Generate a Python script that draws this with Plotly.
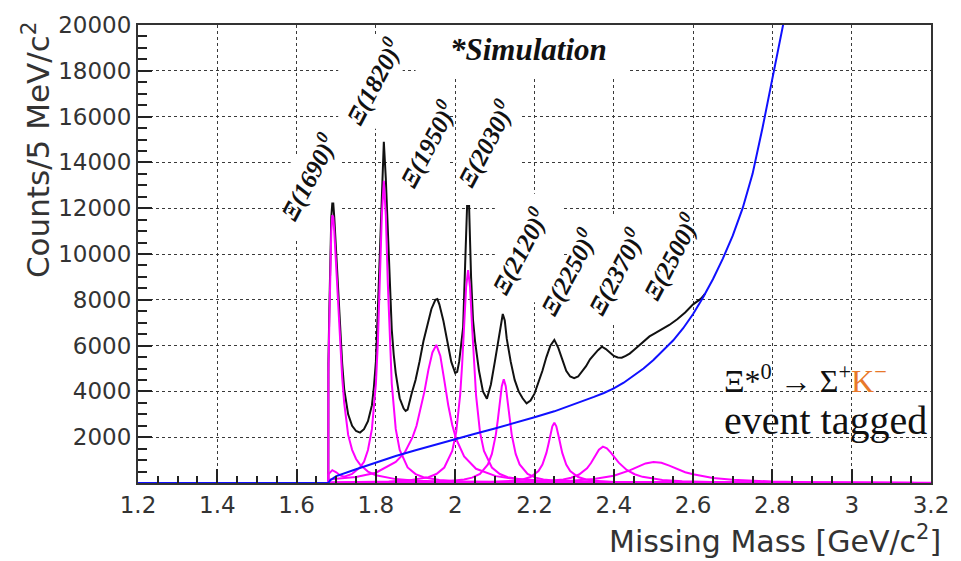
import plotly.graph_objects as go

# ---------------- axis ticks ----------------
x_range = [1.2, 3.2]
x_major_step = 0.2
x_minor_step = 0.05
y_range = [0, 20000]
y_major_step = 2000
y_minor_step = 500
y_hidden_label = {"0": " "}

# ---------------- total missing-mass spectrum ----------------
total_mass = [1.680, 1.6802, 1.6825, 1.685, 1.6875, 1.690, 1.6925, 1.695, 1.700, 1.705,
              1.710, 1.715, 1.720, 1.730, 1.740, 1.750, 1.760, 1.770, 1.780, 1.790,
              1.795, 1.800, 1.805, 1.810, 1.815, 1.820, 1.825, 1.830, 1.835, 1.840,
              1.845, 1.850, 1.860, 1.870, 1.875, 1.880, 1.890, 1.900, 1.910, 1.920,
              1.930, 1.940, 1.950, 1.955, 1.960, 1.970, 1.980, 1.990, 2.000, 2.005,
              2.010, 2.020, 2.025, 2.030, 2.035, 2.040, 2.045, 2.050, 2.060, 2.070,
              2.080, 2.090, 2.100, 2.110, 2.115, 2.120, 2.125, 2.130, 2.140, 2.150,
              2.160, 2.170, 2.180, 2.190, 2.200, 2.210, 2.220, 2.230, 2.240, 2.250,
              2.260, 2.270, 2.280, 2.290, 2.300, 2.310, 2.320, 2.330, 2.340, 2.350,
              2.360, 2.370, 2.380, 2.390, 2.400, 2.410, 2.420, 2.430, 2.440, 2.450,
              2.460, 2.470, 2.480, 2.490, 2.500, 2.520, 2.540, 2.560, 2.580, 2.600,
              2.620, 2.630]
total_counts = [0, 5200, 7500, 9800, 11600, 12200, 12200, 11600, 10000, 8200,
                6500, 5200, 4100, 3000, 2500, 2270, 2200, 2350, 2700, 3400,
                4200, 5300, 7600, 9800, 12500, 14900, 13300, 11300, 9000, 6700,
                5600, 4800, 3700, 3250, 3150, 3200, 3900, 4500, 5300, 6200,
                6900, 7600, 8000, 8030, 7800, 7100, 6200, 5300, 4800, 4850,
                5300, 6800, 9500, 12100, 12100, 9000, 7100, 6200, 4900, 4000,
                3680, 4300, 5300, 6400, 7000, 7380, 7100, 6300, 5300, 4500,
                4000, 3700, 3480, 3600, 3900, 4400, 4900, 5500, 6000, 6250,
                5900, 5400, 4900, 4650, 4580, 4650, 4850, 5100, 5400, 5600,
                5800, 5950, 5850, 5700, 5550, 5480, 5470, 5550, 5650, 5800,
                5950, 6100, 6250, 6400, 6500, 6700, 6900, 7150, 7450, 7800,
                8050, 8260]

# ---------------- phase-space background ----------------
bg_mass = [1.20, 1.68, 1.685, 1.70, 1.75, 1.80, 1.85, 1.90, 1.95, 2.00,
           2.05, 2.10, 2.15, 2.20, 2.25, 2.30, 2.35, 2.375, 2.40, 2.425,
           2.45, 2.475, 2.50, 2.525, 2.55, 2.575, 2.60, 2.625, 2.65, 2.675,
           2.70, 2.725, 2.75, 2.775, 2.80, 2.825, 2.85]
bg_counts = [0, 0, 120, 300, 600, 900, 1180, 1430, 1680, 1920,
             2150, 2380, 2610, 2870, 3130, 3430, 3760, 3930, 4130, 4380,
             4680, 5000, 5370, 5780, 6230, 6760, 7380, 8100, 8900, 9800,
             10800, 12000, 13500, 15500, 17700, 19800, 22000]

# ---------------- individual Xi* resonances ----------------
xi1690_mass = [1.68, 1.6802, 1.6825, 1.685, 1.6875, 1.690, 1.6925, 1.695, 1.70, 1.705,
               1.71, 1.715, 1.72, 1.725, 1.73, 1.74, 1.75, 1.76, 1.78, 1.80,
               1.85, 1.90, 2.0, 2.2, 2.5, 3.2]
xi1690_counts = [0, 4800, 7000, 9300, 11000, 11700, 11600, 11000, 9300, 7500,
                 5900, 4600, 3500, 2700, 2100, 1450, 1050, 800, 500, 340,
                 170, 100, 50, 20, 8, 0]

xi1820_mass = [1.68, 1.6802, 1.69, 1.70, 1.71, 1.72, 1.74, 1.76, 1.77, 1.78,
               1.79, 1.80, 1.805, 1.81, 1.815, 1.82, 1.825, 1.83, 1.835, 1.84,
               1.85, 1.86, 1.88, 1.90, 1.92, 1.96, 2.02, 2.12, 2.4, 3.2]
xi1820_counts = [0, 380, 560, 470, 330, 280, 400, 680, 930, 1440,
                 2360, 4340, 6150, 8740, 11700, 13200, 11700, 8740, 6150, 4340,
                 2360, 1440, 680, 390, 250, 130, 65, 29, 8, 0]

xi1950_mass = [1.68, 1.6802, 1.70, 1.75, 1.80, 1.85, 1.8725, 1.8925, 1.9025, 1.9125,
               1.9225, 1.9325, 1.9425, 1.9525, 1.9625, 1.9725, 1.9825, 1.9925, 2.0025, 2.0225,
               2.0525, 2.1025, 2.1525, 2.2525, 2.4525, 3.2]
xi1950_counts = [0, 150, 190, 260, 450, 920, 1320, 2000, 2500, 3200,
                 4000, 4950, 5700, 6030, 5550, 4480, 3390, 2530, 1920, 1160,
                 620, 300, 170, 76, 28, 0]

xi2030_mass = [1.68, 1.6802, 1.8325, 1.8825, 1.9325, 1.9525, 1.9725, 1.9925, 2.0025, 2.0125,
               2.0175, 2.0225, 2.0275, 2.0325, 2.0375, 2.0425, 2.0475, 2.0525, 2.0625, 2.0725,
               2.0925, 2.1125, 2.1325, 2.1825, 2.2325, 2.4, 2.8, 3.2]
xi2030_counts = [0, 20, 66, 115, 255, 392, 676, 1395, 2220, 3850,
                 5175, 6870, 8540, 9300, 8540, 6870, 5175, 3850, 2220, 1395,
                 676, 392, 255, 115, 66, 30, 12, 0]

xi2120_mass = [1.68, 1.6802, 1.9225, 1.9725, 2.0225, 2.0425, 2.0625, 2.0825, 2.0925, 2.1025,
               2.1075, 2.1125, 2.1175, 2.1225, 2.1275, 2.1325, 2.1375, 2.1425, 2.1525, 2.1625,
               2.1825, 2.2025, 2.2225, 2.2725, 2.3225, 2.6, 3.2]
xi2120_counts = [0, 8, 40, 70, 153, 235, 400, 812, 1268, 2113,
                 2757, 3522, 4228, 4530, 4228, 3522, 2757, 2113, 1268, 812,
                 400, 235, 153, 70, 40, 15, 0]

xi2250_mass = [1.68, 1.6802, 2.05, 2.10, 2.15, 2.17, 2.19, 2.21, 2.22, 2.23,
               2.235, 2.24, 2.245, 2.25, 2.255, 2.26, 2.265, 2.27, 2.28, 2.29,
               2.31, 2.33, 2.35, 2.40, 2.45, 2.7, 3.2]
xi2250_counts = [0, 3, 26, 46, 101, 155, 263, 526, 809, 1315,
                 1683, 2104, 2475, 2630, 2475, 2104, 1683, 1315, 809, 526,
                 263, 155, 101, 46, 26, 8, 0]

xi2370_mass = [1.68, 1.6802, 2.1725, 2.2225, 2.2725, 2.2925, 2.3125, 2.3325, 2.3425, 2.3525,
               2.3625, 2.3725, 2.3825, 2.3925, 2.4025, 2.4125, 2.4325, 2.4525, 2.4725, 2.5225,
               2.5725, 2.6725, 2.8725, 3.2]
xi2370_counts = [0, 5, 42, 73, 156, 231, 370, 644, 871, 1163,
                 1456, 1590, 1515, 1327, 1101, 888, 572, 382, 268, 131,
                 77, 35, 13, 0]

xi2500_mass = [1.68, 1.6802, 1.90, 2.10, 2.20, 2.30, 2.35, 2.40, 2.42, 2.44,
               2.46, 2.48, 2.50, 2.52, 2.54, 2.56, 2.58, 2.60, 2.65, 2.70,
               2.80, 2.90, 3.00, 3.20]
xi2500_counts = [0, 7, 13, 29, 51, 108, 176, 320, 418, 549,
                 707, 856, 920, 880, 760, 600, 470, 380, 220, 140,
                 65, 35, 22, 12]

peak_labels = ["Ξ(1690)", "Ξ(1820)", "Ξ(1950)", "Ξ(2030)",
               "Ξ(2120)", "Ξ(2250)", "Ξ(2370)", "Ξ(2500)"]

# label anchor points (GeV, counts)
label_x = [1.6275, 1.794, 1.930, 2.075, 2.160, 2.285, 2.405, 2.5425]
label_y = [13360, 17520, 14830, 14830, 10130, 9220, 9220, 9910]

# white patches behind the labels that break the grid: (x0, x1, y0, y1)
label_patches = [
    (1.900, 2.435, 17716, 20000),
    (1.585, 1.7125, 10690, 14267),
    (1.705, 1.8675, 15474, 19526),
    (1.8625, 1.985, 12845, 17026),
    (2.0025, 2.1625, 12845, 17026),
    (2.100, 2.2675, 7888, 12629),
    (2.225, 2.5975, 6940, 9500),
    (2.2875, 2.5975, 9500, 11681),
]

BLACK = "#111111"
MAGENTA = "#ff00ff"
BLUE = "#1010ff"
TEXT = "#333333"

fig = go.Figure()

fig.add_trace(go.Scatter(x=total_mass, y=total_counts, mode="lines",
                         line=dict(color=BLACK, width=2), showlegend=False))

for mass, counts in [(xi1690_mass, xi1690_counts), (xi1820_mass, xi1820_counts),
                     (xi1950_mass, xi1950_counts), (xi2030_mass, xi2030_counts),
                     (xi2120_mass, xi2120_counts), (xi2250_mass, xi2250_counts),
                     (xi2370_mass, xi2370_counts), (xi2500_mass, xi2500_counts)]:
    fig.add_trace(go.Scatter(x=mass, y=counts, mode="lines",
                             line=dict(color=MAGENTA, width=2), showlegend=False))

fig.add_trace(go.Scatter(x=bg_mass, y=bg_counts, mode="lines",
                         line=dict(color=BLUE, width=2), showlegend=False))

for x0, x1, y0, y1 in label_patches:
    fig.add_shape(type="rect", xref="x", yref="y", x0=x0, x1=x1, y0=y0, y1=y1,
                  fillcolor="white", line=dict(width=0), layer="between")

for name, lx, ly in zip(peak_labels, label_x, label_y):
    fig.add_annotation(x=lx, y=ly, xref="x", yref="y", showarrow=False,
                       text="<b><i>" + name + "<sup>0</sup></i></b>", textangle=-62,
                       font=dict(family="Liberation Serif", size=25, color="#111111"),
                       xanchor="center", yanchor="middle")

fig.add_annotation(x=0.492, y=0.946, xref="paper", yref="paper", showarrow=False,
                   text="<b><i>*Simulation</i></b>",
                   font=dict(family="Liberation Serif", size=31, color="#111111"),
                   xanchor="center", yanchor="middle")

fig.add_annotation(x=0.7366, y=0.228, xref="paper", yref="paper", showarrow=False,
                   text="Ξ*<sup>0</sup> → Σ<sup>+</sup><span style='color:#e8782a'>K<sup>−</sup></span>",
                   font=dict(family="Liberation Serif", size=32, color="#111111"),
                   xanchor="left", yanchor="middle")
fig.add_annotation(x=0.7366, y=0.136, xref="paper", yref="paper", showarrow=False,
                   text="event tagged",
                   font=dict(family="Liberation Serif", size=40, color="#111111"),
                   xanchor="left", yanchor="middle")

# axis titles
fig.add_annotation(x=-0.1286, y=0.727, xref="paper", yref="paper", showarrow=False,
                   text="Counts/5 MeV/c<sup>2</sup>", textangle=-90,
                   font=dict(family="DejaVu Sans", size=31, color=TEXT),
                   xanchor="center", yanchor="middle")
fig.add_annotation(x=1.015, y=-0.123, xref="paper", yref="paper", showarrow=False,
                   text="Missing Mass [GeV/c<sup>2</sup>]",
                   font=dict(family="DejaVu Sans", size=30, color=TEXT),
                   xanchor="right", yanchor="middle")

grid = dict(showgrid=True, gridcolor="#3a3a3a", gridwidth=1, griddash="dot")

fig.update_xaxes(range=x_range, tickmode="linear", tick0=x_range[0], dtick=x_major_step,
                 ticks="inside", ticklen=14, tickwidth=2, tickcolor="#222",
                 minor=dict(ticks="inside", ticklen=7, tickwidth=2, tickcolor="#222",
                            dtick=x_minor_step, showgrid=False),
                 showline=True, linecolor="#333", linewidth=2, mirror=True,
                 tickfont=dict(family="DejaVu Sans", size=23, color=TEXT),
                 zeroline=False, **grid)
fig.update_yaxes(range=y_range, tickmode="linear", tick0=y_range[0], dtick=y_major_step,
                 tickformat="d", labelalias=y_hidden_label,
                 ticks="inside", ticklen=14, tickwidth=2, tickcolor="#222",
                 minor=dict(ticks="inside", ticklen=9, tickwidth=2, tickcolor="#222",
                            dtick=y_minor_step, showgrid=False),
                 showline=True, linecolor="#333", linewidth=2, mirror=True,
                 tickfont=dict(family="DejaVu Sans", size=23, color=TEXT),
                 zeroline=False, **grid)

fig.update_layout(width=961, height=561, margin=dict(l=138, r=22, t=19, b=78),
                  paper_bgcolor="white", plot_bgcolor="white", showlegend=False)

fig.write_html("out.html")
